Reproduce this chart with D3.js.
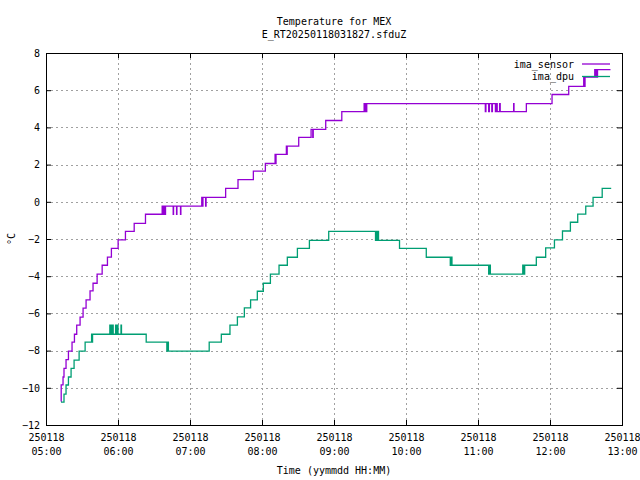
<!DOCTYPE html>
<html>
<head>
<meta charset="utf-8">
<script src="https://cdn.jsdelivr.net/npm/d3@7"></script>
<style>
html,body{margin:0;padding:0;background:#fff;}
svg{display:block;}
</style>
</head>
<body>
<svg id="chart" width="640" height="480"></svg>
<script>
// ---- data ----
const titleLines = ["Temperature for MEX", "E_RT20250118031827.sfduZ"];
const xLabel = "Time (yymmdd HH:MM)";
const yLabel = "°C";
const dateLabel = "250118";
const xTicks = ["05:00","06:00","07:00","08:00","09:00","10:00","11:00","12:00","13:00"];
const yTicks = [-12,-10,-8,-6,-4,-2,0,2,4,6,8];
const seriesNames = ["ima_sensor", "ima_dpu"];

const imaSensor = [
["05:12:30",-10.73],["05:12:40",-9.84],["05:14:12",-9.42],["05:15:00",-8.96],["05:16:42",-8.49],
["05:18:42",-8.03],["05:21:42",-7.54],["05:23:42",-7.12],["05:25:36",-6.63],["05:28:24",-6.20],
["05:30:54",-5.72],["05:33:24",-5.27],["05:36:42",-4.79],["05:39:12",-4.38],["05:42:36",-3.89],
["05:46:48",-3.41],["05:51:12",-2.97],["05:54:30",-2.50],["06:00:06",-2.05],["06:06:12",-1.59],
["06:13:30",-1.16],["06:22:54",-0.67],
["06:36:48",-0.23],["06:37:18",-0.67],["06:37:48",-0.23],["06:38:18",-0.67],["06:38:48",-0.23],
["06:39:12",-0.67],["06:39:36",-0.23],["06:46:00",-0.67],["06:46:18",-0.23],["06:48:48",-0.67],
["06:49:06",-0.23],["06:52:06",-0.67],["06:52:24",-0.23],
["07:09:48",0.24],["07:10:18",-0.23],["07:10:48",0.24],["07:13:00",-0.23],["07:13:24",0.24],
["07:29:42",0.72],["07:40:00",1.19],["07:52:48",1.65],["08:02:48",2.06],
["08:10:54",2.55],["08:11:18",2.06],["08:11:42",2.55],
["08:20:18",2.99],["08:20:36",2.55],["08:21:00",2.99],
["08:30:36",3.46],["08:40:54",3.89],["08:42:18",3.46],["08:42:42",3.89],
["08:53:06",4.37],["09:06:30",4.85],
["09:25:06",5.28],["09:25:36",4.85],["09:26:12",5.28],["09:26:42",4.85],["09:27:18",5.28],
["11:06:06",4.85],["11:06:36",5.28],["11:08:54",4.85],["11:09:30",5.28],["11:11:30",4.85],
["11:12:00",5.28],["11:14:30",4.85],["11:15:30",5.28],["11:16:00",4.85],["11:18:00",5.28],
["11:18:30",4.85],["11:29:42",5.28],["11:30:00",4.85],
["11:40:18",5.28],["12:01:42",5.77],["12:15:36",6.21],
["12:28:06",6.71],["12:28:36",6.21],["12:29:12",6.71],
["12:37:18",7.11],["12:37:48",6.71],["12:38:30",7.11],["12:39:00",6.71],["12:39:36",7.11],
["12:50:24",7.11]
];

const imaDpu = [
["05:12:30",-10.77],["05:15:00",-10.34],["05:16:42",-9.85],["05:18:42",-9.42],["05:20:54",-8.96],
["05:23:24",-8.51],["05:27:36",-8.03],["05:32:36",-7.54],
["05:38:00",-7.12],["05:38:24",-7.54],["05:38:48",-7.12],
["05:53:12",-6.63],["05:53:36",-7.12],["05:54:00",-6.63],["05:54:24",-7.12],["05:54:48",-6.63],
["05:55:12",-7.12],["05:55:36",-6.63],["05:56:00",-7.12],["05:58:00",-6.63],["05:58:24",-7.12],
["05:58:48",-6.63],["05:59:12",-7.12],["05:59:36",-6.63],["06:00:00",-7.12],["06:02:30",-6.63],
["06:02:54",-7.12],
["06:23:30",-7.54],
["06:40:42",-8.03],["06:41:00",-7.54],["06:41:24",-8.03],["06:41:42",-7.54],["06:42:00",-8.03],
["07:16:00",-7.54],["07:26:06",-7.12],["07:33:18",-6.63],["07:39:30",-6.19],["07:45:18",-5.70],
["07:50:30",-5.27],["07:56:06",-4.81],["08:01:06",-4.38],["08:07:00",-3.89],["08:14:12",-3.41],
["08:21:06",-2.98],["08:29:30",-2.50],["08:39:30",-2.07],["08:55:36",-1.59],
["09:34:36",-2.07],["09:35:00",-1.59],["09:35:30",-2.07],["09:36:12",-1.59],["09:37:06",-2.07],
["09:54:36",-2.50],["10:16:54",-2.98],
["10:36:54",-3.41],["10:37:18",-2.98],["10:37:42",-3.41],["10:38:06",-2.98],["10:38:18",-3.41],
["11:08:54",-3.89],["11:09:36",-3.41],["11:10:18",-3.89],
["11:37:18",-3.41],["11:37:42",-3.89],["11:38:06",-3.41],["11:38:30",-3.89],["11:38:54",-3.41],
["11:48:36",-2.98],["11:56:24",-2.48],["12:03:42",-2.05],["12:10:24",-1.57],["12:17:00",-1.10],
["12:23:06",-0.66],["12:29:48",-0.23],["12:35:54",0.24],["12:43:30",0.72],["12:51:00",0.72]
];

const colors = ["#9400d3", "#009e73"];

// ---- layout ----
const FONT = "'DejaVu Sans Mono', monospace";
const L = 46, R = 622, T = 53, B = 425;
const parseT = d3.timeParse("%H:%M:%S");
const parseH = d3.timeParse("%H:%M");

const x = d3.scaleTime().domain([parseH(xTicks[0]), parseH(xTicks[xTicks.length-1])]).range([L, R]);
const y = d3.scaleLinear().domain([yTicks[0], yTicks[yTicks.length-1]]).range([B, T]);

const svg = d3.select("#chart");
svg.append("rect").attr("width",640).attr("height",480).attr("fill","#fff");

const xTickVals = xTicks.map(parseH);

// grid
const grid = svg.append("g").attr("stroke","#a0a0a0").attr("stroke-width",1).attr("stroke-dasharray","2,3");
xTickVals.slice(1,-1).forEach(t=>{
  const px = Math.round(x(t))+0.5;
  grid.append("line").attr("x1",px).attr("x2",px).attr("y1",T).attr("y2",B);
});
yTicks.slice(1,-1).forEach(v=>{
  const py = Math.round(y(v))+0.5;
  grid.append("line").attr("x1",L).attr("x2",R).attr("y1",py).attr("y2",py);
});

// series
const line = d3.line().x(d=>x(parseT(d[0]))).y(d=>y(d[1])).curve(d3.curveStepAfter);
[imaSensor, imaDpu].forEach((s,i)=>{
  svg.append("path").datum(s).attr("d",line).attr("fill","none")
    .attr("stroke",colors[i]).attr("stroke-width",1.3);
});

// axes
function styleAxis(g){
  g.attr("font-family",FONT).attr("font-size",10);
  g.select(".domain").remove();
  g.selectAll("line").attr("stroke","#000");
  g.selectAll("text").attr("fill","#000");
}
svg.append("g").attr("transform",`translate(${L},0)`)
  .call(d3.axisLeft(y).tickValues(yTicks).tickSize(-5).tickPadding(6).tickFormat(d3.format("d")))
  .call(styleAxis);
svg.append("g").attr("transform",`translate(${R},0)`)
  .call(d3.axisRight(y).tickValues(yTicks).tickSize(-5).tickFormat(""))
  .call(styleAxis);
svg.append("g").attr("transform",`translate(0,${T})`)
  .call(d3.axisTop(x).tickValues(xTickVals).tickSize(-5).tickFormat(""))
  .call(styleAxis);
const xb = svg.append("g").attr("transform",`translate(0,${B})`)
  .call(d3.axisBottom(x).tickValues(xTickVals).tickSize(-5).tickFormat(d3.timeFormat("%H:%M")))
  .call(styleAxis);
xb.selectAll(".tick text").each(function(d){
  const t = d3.select(this);
  const hm = d3.timeFormat("%H:%M")(d);
  t.text(null).attr("y",0).attr("dy",null);
  t.append("tspan").attr("x",0).attr("y",16).text(dateLabel);
  t.append("tspan").attr("x",0).attr("y",30).text(hm);
});

// border
svg.append("rect").attr("x",L+0.5).attr("y",T+0.5).attr("width",R-L).attr("height",B-T)
  .attr("fill","none").attr("stroke","#000").attr("stroke-width",1);

// titles
const title = svg.append("text").attr("font-family",FONT).attr("font-size",10).attr("text-anchor","middle");
title.append("tspan").attr("x",(L+R)/2).attr("y",25).text(titleLines[0]);
title.append("tspan").attr("x",(L+R)/2).attr("y",37.5).text(titleLines[1]);
svg.append("text").attr("font-family",FONT).attr("font-size",10).attr("text-anchor","middle")
  .attr("x",(L+R)/2).attr("y",474).text(xLabel);
svg.append("text").attr("font-family",FONT).attr("font-size",10).attr("text-anchor","middle")
  .attr("transform","translate(15,239) rotate(-90)").text(yLabel);

// legend
seriesNames.forEach((n,i)=>{
  const ly = 64 + i*12.5;
  svg.append("text").attr("font-family",FONT).attr("font-size",10).attr("text-anchor","end")
    .attr("x",574).attr("y",ly+3.5).text(n);
  svg.append("line").attr("x1",582).attr("x2",610).attr("y1",ly).attr("y2",ly)
    .attr("stroke",colors[i]).attr("stroke-width",1.3);
});
</script>
</body>
</html>
